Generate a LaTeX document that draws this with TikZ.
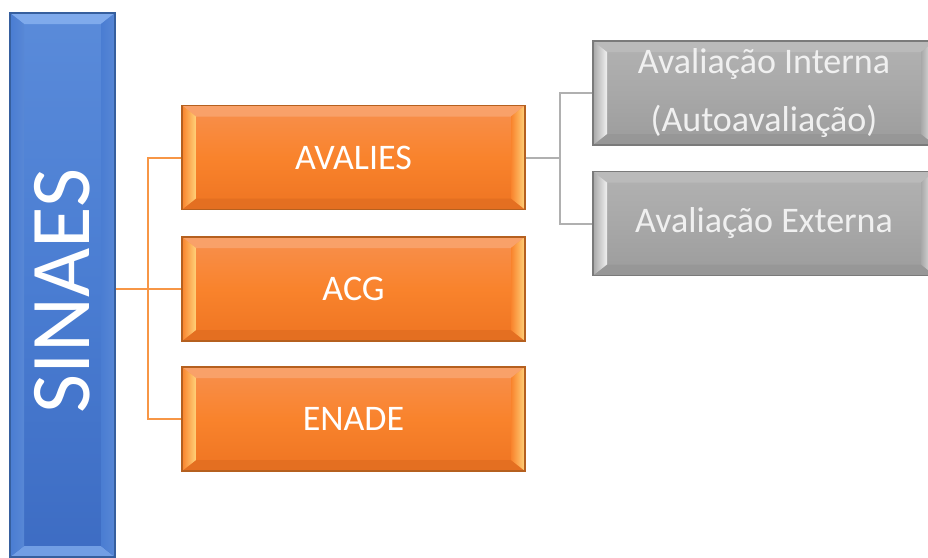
\documentclass[tikz,border=0pt]{standalone}
\usepackage{fontspec}
\setmainfont{Carlito}
\usetikzlibrary{calc}
\definecolor{obody}{HTML}{F9832C}
\definecolor{otop}{HTML}{F8904E}
\definecolor{obot}{HTML}{EE7422}
\definecolor{oborder}{HTML}{B5601F}
\definecolor{ohl}{HTML}{FFD27A}
\definecolor{oline}{HTML}{F79646}
\definecolor{bbody}{HTML}{4A7DD2}
\definecolor{btop}{HTML}{5A8BDA}
\definecolor{bbot}{HTML}{3D6CC3}
\definecolor{bborder}{HTML}{365F9E}
\definecolor{bhl}{HTML}{7FAAEC}
\definecolor{gbody}{HTML}{A8A8A8}
\definecolor{gtop}{HTML}{B2B2B2}
\definecolor{gbot}{HTML}{9C9C9C}
\definecolor{gborder}{HTML}{7A7A7A}
\definecolor{ghl}{HTML}{F0F0F0}
\definecolor{gline}{HTML}{B0B0B0}
\tikzset{
  bevel/.style n args={4}{path picture={
    \path (path picture bounding box.north west) coordinate (bnw)
          (path picture bounding box.north east) coordinate (bne)
          (path picture bounding box.south west) coordinate (bsw)
          (path picture bounding box.south east) coordinate (bse);
    \fill[#1] (bnw) -- (bne) -- ($(bne)+(-14,11)$) -- ($(bnw)+(14,11)$) -- cycle;
    \fill[#2] (bsw) -- (bse) -- ($(bse)+(-14,-11)$) -- ($(bsw)+(14,-11)$) -- cycle;
    \shade[left color=#4, right color=#3] (bnw) -- ($(bnw)+(14,11)$) -- ($(bsw)+(14,-11)$) -- (bsw) -- cycle;
    \shade[left color=#4, right color=#3] (bne) -- ($(bne)+(-14,11)$) -- ($(bse)+(-14,-11)$) -- (bse) -- cycle;
  }},
  obox/.style={draw=oborder, line width=1.2pt, top color=otop, bottom color=obot, middle color=obody,
    minimum width=343pt, minimum height=104pt, inner sep=0pt, text=white,
    font=\fontsize{36}{44}\selectfont, bevel={otop!85!white}{obot!96!black}{ohl}{obody}},
  gbox/.style={draw=gborder, line width=1.2pt, top color=gtop, bottom color=gbot, middle color=gbody,
    minimum width=342pt, minimum height=104pt, inner sep=0pt, text=ghl, align=center,
    font=\fontsize{36}{58}\selectfont, bevel={gtop!90!white}{gbot!97!black}{ghl}{gbody}},
  bbox/.style={draw=bborder, line width=1.2pt, top color=btop, bottom color=bbot, middle color=bbody,
    minimum width=105pt, minimum height=544pt, inner sep=0pt,
    bevel={bhl}{bhl!80!bbot}{bbody!92!white}{bbody}},
  oconn/.style={draw=oline, line width=2pt},
  gconn/.style={draw=gline, line width=2pt},
}
\begin{document}
\begin{tikzpicture}[x=1pt,y=-1pt]
\useasboundingbox[fill=white] (0,0) rectangle (928,557);
\coordinate (oj) at (148,289);
\coordinate (gj) at (560,157.5);
\node[obox] (acg) at (353.5,289) {ACG};
\node[bbox] (sinaes) at (62.5,285) {};
\node[obox] (avalies) at (353.5,157.5) {AVALIES};
\node[obox] (enade) at (353.5,419) {ENADE};
\node[gbox] (gi) at (764,93) {Avaliação Interna\\(Autoavaliação)};
\node[gbox] (ge) at (764,223.5) {Avaliação Externa};
\draw[oconn] (sinaes.east |- oj) -- (acg.west);
\draw[oconn] (avalies.west) -| (oj) |- (enade.west);
\draw[gconn] (avalies.east) -- (gj);
\draw[gconn] (gi.west) -| (gj) |- (ge.west);
\node[rotate=90, text=white, font=\fontsize{85}{95}\selectfont, inner sep=0pt] (sinaestext) at ($(sinaes.center)+(0,6)$) {SINAES};
\end{tikzpicture}
\end{document}
